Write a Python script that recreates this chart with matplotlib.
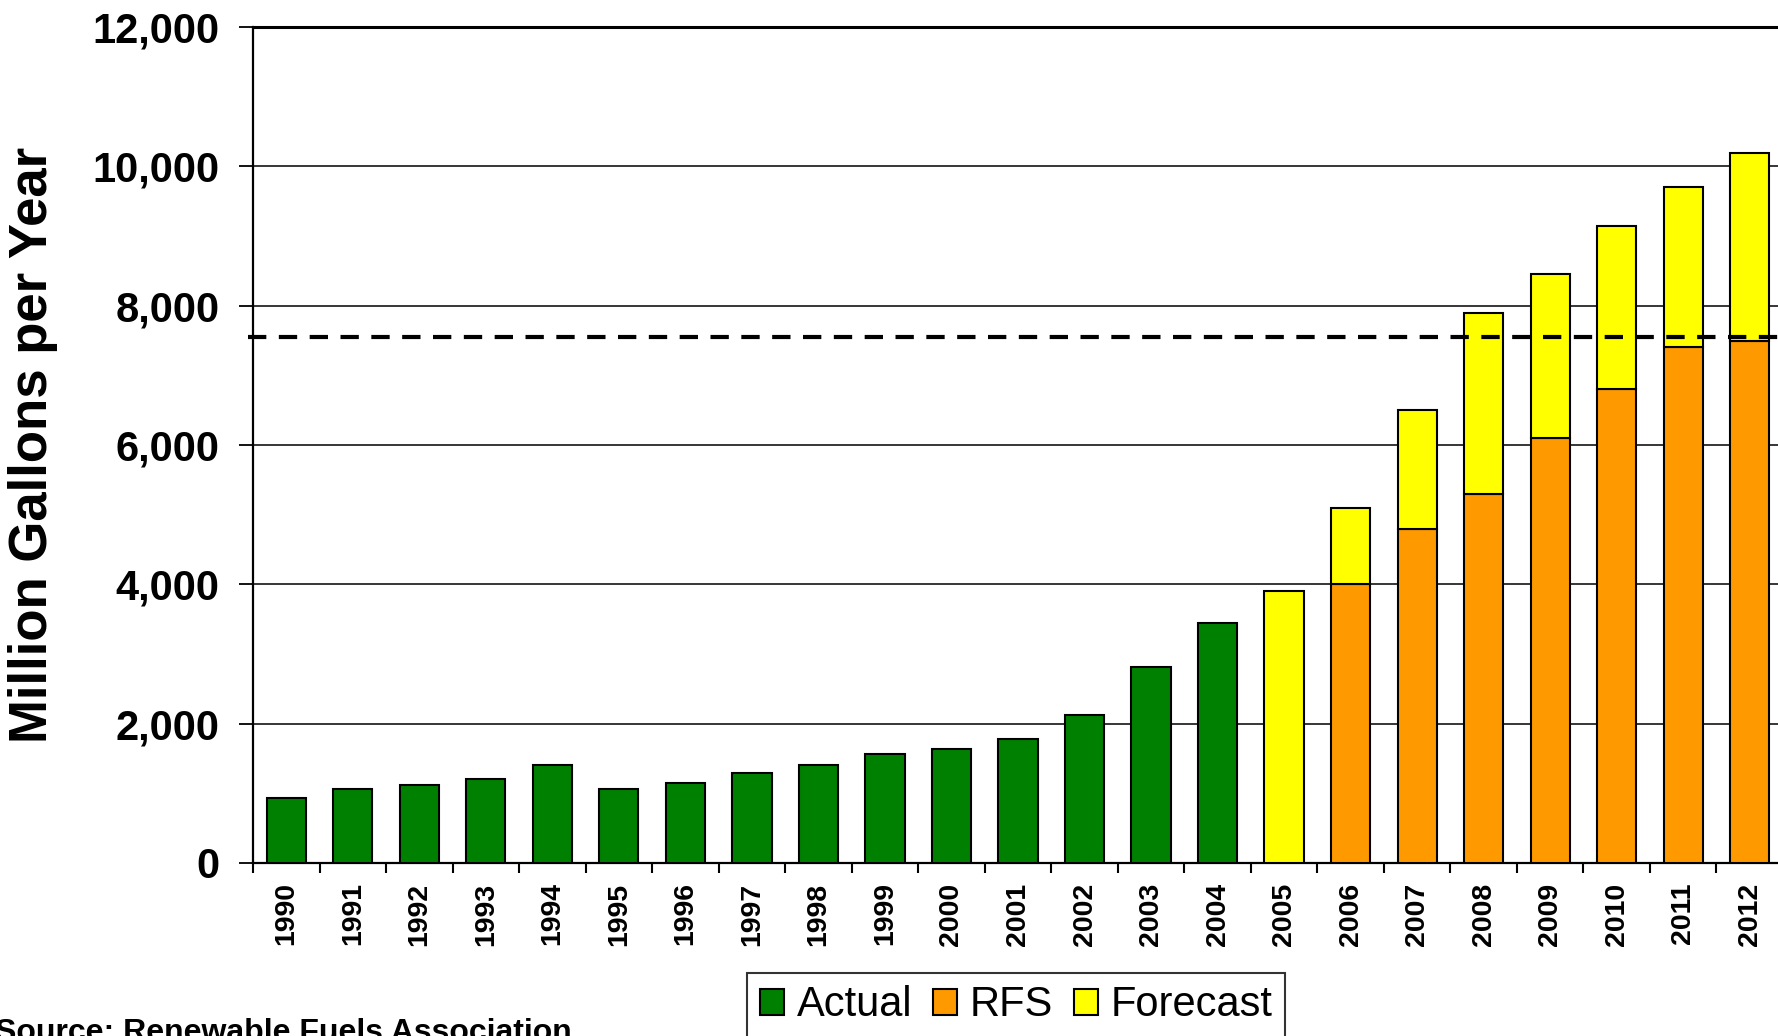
import matplotlib
matplotlib.use("Agg")
import matplotlib.pyplot as plt
from matplotlib.patches import Patch
import numpy as np

years = [str(y) for y in range(1990, 2013)]
actual_years = years[:15]
actual = [930, 1060, 1120, 1210, 1400, 1060, 1150, 1290, 1410, 1565, 1630, 1775, 2125, 2810, 3440]
rfs_years = years[16:]
rfs = [4000, 4800, 5300, 6100, 6800, 7400, 7500]
forecast_years = years[15:]
forecast_total = [3900, 5090, 6500, 7900, 8460, 9150, 9710, 10190]
rfs_target = 7550
yticks = [0, 2000, 4000, 6000, 8000, 10000, 12000]
ylabel = "Million Gallons per Year"
source = "Source: Renewable Fuels Association"

GREEN = "#008000"
ORANGE = "#FF9900"
YELLOW = "#FFFF00"

plt.rcParams['font.family'] = ['Liberation Sans', 'DejaVu Sans']

W, H = 1778, 1036
fig = plt.figure(figsize=(W / 100, H / 100), dpi=100)
ax = fig.add_axes([253 / W, (H - 863) / H, (1783 - 253) / W, (863 - 27) / H])

idx = {y: i for i, y in enumerate(years)}
bw = 0.59
lw = 1.5

xa = [idx[y] for y in actual_years]
ax.bar(xa, actual, width=bw, color=GREEN, edgecolor='black', linewidth=lw, zorder=3)

xr = [idx[y] for y in rfs_years]
ax.bar(xr, rfs, width=bw, color=ORANGE, edgecolor='black', linewidth=lw, zorder=3)

rfs_map = dict(zip(rfs_years, rfs))
xf = [idx[y] for y in forecast_years]
bottoms = [rfs_map.get(y, 0) for y in forecast_years]
heights = [t - b for t, b in zip(forecast_total, bottoms)]
ax.bar(xf, heights, bottom=bottoms, width=bw, color=YELLOW, edgecolor='black', linewidth=lw, zorder=3)

ax.set_xlim(-0.5, len(years) - 0.5)
ax.set_ylim(0, 12000)

ax.set_yticks(yticks)
ax.set_yticklabels([f"{v:,}" for v in yticks], fontsize=30, fontweight='bold')
ax.yaxis.grid(True, color='black', linewidth=1.1, zorder=0)
ax.set_axisbelow(True)

ax.set_xticks(range(len(years)))
ax.set_xticklabels(years, rotation=90, fontsize=20.5, fontweight='bold')
ax.set_xticks(np.arange(-0.5, len(years), 1.0), minor=True)
ax.tick_params(axis='x', which='major', length=0, pad=14)
ax.tick_params(axis='x', which='minor', length=7.5, width=1.5, color='black', direction='out')
ax.tick_params(axis='y', which='major', length=10, width=1.3, direction='out', pad=14)

for s in ['left', 'bottom']:
    ax.spines[s].set_linewidth(1.6)
ax.spines['top'].set_linewidth(2.2)
ax.spines['right'].set_visible(False)

ax.plot([-0.58, len(years) - 0.5], [rfs_target, rfs_target], color='black', lw=3,
        dashes=(4.4, 3.0), clip_on=False, zorder=5)

fig.text(33 / W, 1 - 445 / H, ylabel, rotation=90, ha='center', va='center',
         fontsize=38, fontweight='bold')

fig.text(-5 / W, -5 / H, source, ha='left', va='baseline', fontsize=23, fontweight='bold')

handles = [Patch(facecolor=GREEN, edgecolor='black', linewidth=1.5, label='Actual'),
           Patch(facecolor=ORANGE, edgecolor='black', linewidth=1.5, label='RFS'),
           Patch(facecolor=YELLOW, edgecolor='black', linewidth=1.5, label='Forecast')]
leg = fig.legend(handles=handles, loc='upper center', bbox_to_anchor=(1016 / W, 1 - 973 / H),
                 ncol=3, fontsize=30, frameon=True, fancybox=False, edgecolor='black',
                 handlelength=0.58, handleheight=0.58, handletextpad=0.3, columnspacing=0.5,
                 borderpad=0.3, borderaxespad=0)
leg.get_frame().set_linewidth(1.5)

fig.savefig("out.png", dpi=100)
